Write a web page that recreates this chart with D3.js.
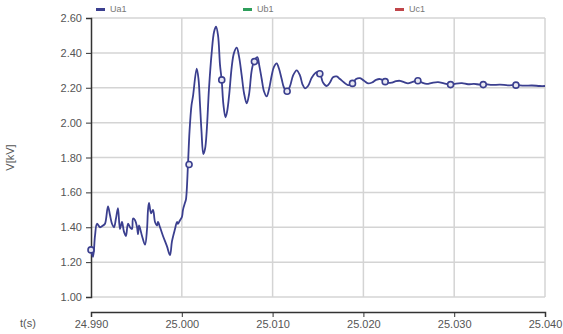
<!DOCTYPE html>
<html>
<head>
<meta charset="utf-8">
<script src="https://cdn.jsdelivr.net/npm/d3@7"></script>
<style>
  body { margin: 0; background: #fff; }
  svg { display: block; font-family: "Liberation Sans", Arial, sans-serif; }
  .grid line { stroke: #d4d4d4; stroke-width: 1.5; }
  .axis text { fill: #555; font-size: 11px; }
  .axis path, .axis line { stroke: #333; }
</style>
</head>
<body>
<div id="chart"></div>
<script>
// 時間軸 (s)
var times = [
  24.99000, 24.99022, 24.99044, 24.99066, 24.99099, 24.99132, 24.99154, 24.99187, 24.99209, 24.99231,
  24.99253, 24.99275, 24.99297, 24.99319, 24.99341, 24.99363, 24.99385, 24.99407, 24.99430, 24.99452,
  24.99463, 24.99485, 24.99507, 24.99518, 24.99529, 24.99562, 24.99595, 24.99617, 24.99628, 24.99639,
  24.99661, 24.99683, 24.99705, 24.99727, 24.99738, 24.99760, 24.99793, 24.99837, 24.99870, 24.99892,
  24.99925, 24.99947, 24.99958, 24.99980, 25.00002, 25.00013, 25.00035, 25.00046, 25.00068, 25.00085,
  25.00107, 25.00123, 25.00164, 25.00184, 25.00200, 25.00217, 25.00237, 25.00256, 25.00274, 25.00300,
  25.00329, 25.00355, 25.00377, 25.00399, 25.00421, 25.00439, 25.00459, 25.00481, 25.00498, 25.00520,
  25.00550, 25.00575, 25.00605, 25.00630, 25.00660, 25.00685, 25.00715, 25.00740, 25.00770, 25.00795,
  25.00831, 25.00856, 25.00880, 25.00905, 25.00935, 25.00960, 25.00990, 25.01015, 25.01045, 25.01070,
  25.01100, 25.01126, 25.01159, 25.01192, 25.01225, 25.01265, 25.01302, 25.01329, 25.01357, 25.01390,
  25.01434, 25.01486, 25.01522, 25.01555, 25.01596, 25.01632, 25.01665, 25.01706, 25.01742, 25.01787,
  25.01830, 25.01874, 25.01919, 25.01963, 25.02007, 25.02051, 25.02095, 25.02139, 25.02183, 25.02227,
  25.02271, 25.02315, 25.02359, 25.02403, 25.02447, 25.02491, 25.02535, 25.02587, 25.02634, 25.02697,
  25.02755, 25.02822, 25.02888, 25.02954, 25.03020, 25.03086, 25.03152, 25.03218, 25.03284, 25.03350,
  25.03416, 25.03504, 25.03592, 25.03680, 25.03768, 25.03856, 25.03944, 25.04000
];

// 電圧 Ua1 (kV)
var voltsUa1 = [
  1.27, 1.23, 1.35, 1.42, 1.40, 1.41, 1.42, 1.52, 1.47, 1.42,
  1.40, 1.45, 1.51, 1.39, 1.43, 1.375, 1.35, 1.42, 1.40, 1.39,
  1.45, 1.44, 1.40, 1.36, 1.41, 1.35, 1.30, 1.39, 1.50, 1.54,
  1.48, 1.50, 1.43, 1.41, 1.43, 1.40, 1.35, 1.29, 1.24, 1.32,
  1.39, 1.43, 1.42, 1.44, 1.46, 1.50, 1.54, 1.56, 1.76, 1.95,
  2.10, 2.15, 2.31, 2.25, 2.11, 1.95, 1.82, 1.85, 1.95, 2.20,
  2.40, 2.52, 2.55, 2.50, 2.33, 2.245, 2.10, 2.03, 2.06, 2.15,
  2.32, 2.40, 2.43, 2.38, 2.27, 2.17, 2.11, 2.16, 2.30, 2.35,
  2.375, 2.32, 2.25, 2.18, 2.15, 2.19, 2.27, 2.32, 2.34, 2.31,
  2.25, 2.20, 2.18, 2.21, 2.27, 2.30, 2.27, 2.22, 2.197, 2.21,
  2.26, 2.29, 2.28, 2.23, 2.21, 2.23, 2.26, 2.265, 2.25, 2.23,
  2.215, 2.22, 2.25, 2.255, 2.24, 2.225, 2.23, 2.245, 2.25, 2.24,
  2.228, 2.23, 2.238, 2.24, 2.232, 2.225, 2.232, 2.24, 2.232, 2.222,
  2.228, 2.232, 2.225, 2.218, 2.224, 2.226, 2.22, 2.222, 2.218, 2.22,
  2.216, 2.218, 2.214, 2.216, 2.212, 2.213, 2.21, 2.21
];

// マーカーの位置 (見えるものだけ)
var markerTimes = [24.9900, 25.0008, 25.0044, 25.0080, 25.0116,
  25.0152, 25.0188, 25.0224, 25.0260, 25.0296, 25.0332, 25.0368];
var markerVolts = [1.27, 1.76, 2.245, 2.35, 2.18,
  2.28, 2.225, 2.235, 2.24, 2.218, 2.218, 2.215];

var xTicks = [24.990, 25.000, 25.010, 25.020, 25.030, 25.040];
var yTicks = [1.00, 1.20, 1.40, 1.60, 1.80, 2.00, 2.20, 2.40, 2.60];

var legendNames = ['Ua1', 'Ub1', 'Uc1'];
var legendColors = ['#3b3f8f', '#2e9e5b', '#c0454a'];

var width = 563;
var height = 334;
var margin = { top: 18, right: 18, bottom: 37, left: 91 };
var w = width - margin.left - margin.right;
var h = height - margin.top - margin.bottom;

var svg = d3.select('#chart').append('svg')
  .attr('width', width)
  .attr('height', height);

var xScale = d3.scaleLinear().domain([24.990, 25.040]).range([0, w]);
var yScale = d3.scaleLinear().domain([1.0, 2.6]).range([h, 0]);

var g = svg.append('g')
  .attr('transform', 'translate(' + margin.left + ',' + margin.top + ')');

// グリッド
var grid = g.append('g').classed('grid', true);
grid.selectAll('.hgrid').data(yTicks).enter().append('line')
  .attr('x1', 0).attr('x2', w)
  .attr('y1', function(d) { return yScale(d); })
  .attr('y2', function(d) { return yScale(d); });
grid.selectAll('.vgrid').data(xTicks.slice(1)).enter().append('line')
  .attr('y1', 0).attr('y2', h)
  .attr('x1', function(d) { return xScale(d); })
  .attr('x2', function(d) { return xScale(d); });

// y軸
g.append('g').classed('axis', true)
  .call(d3.axisLeft(yScale).tickValues(yTicks).tickSize(5).tickPadding(4)
    .tickFormat(d3.format('.2f')))
  .select('.domain').attr('stroke-width', 1.5);

// x軸 (プロットの下に離して置く)
g.append('g').classed('axis', true)
  .attr('transform', 'translate(0,' + (h + 15) + ')')
  .call(d3.axisBottom(xScale).tickValues(xTicks).tickSize(5).tickPadding(3)
    .tickFormat(d3.format('.3f')))
  .select('.domain').attr('stroke', '#777').attr('stroke-width', 1.5);

// 線
var data = times.map(function(t, i) { return { t: t, v: voltsUa1[i] }; });
var line = d3.line()
  .x(function(d) { return xScale(d.t); })
  .y(function(d) { return yScale(d.v); })
  .curve(d3.curveCatmullRom.alpha(0.5));

g.append('path')
  .datum(data)
  .attr('fill', 'none')
  .attr('stroke', legendColors[0])
  .attr('stroke-width', 1.8)
  .attr('stroke-linejoin', 'round')
  .attr('d', line);

g.selectAll('.marker')
  .data(markerTimes)
  .enter().append('circle')
  .attr('cx', function(d) { return xScale(d); })
  .attr('cy', function(d, i) { return yScale(markerVolts[i]); })
  .attr('r', 3)
  .attr('fill', '#e8e8f2')
  .attr('stroke', legendColors[0])
  .attr('stroke-width', 1.6);

// 軸ラベル
svg.append('text')
  .attr('transform', 'translate(14,' + (margin.top + h / 2) + ') rotate(-90)')
  .attr('text-anchor', 'middle')
  .style('font-size', '11px')
  .style('fill', '#555')
  .text('V[kV]');

svg.append('text')
  .attr('x', 28).attr('y', 327)
  .attr('text-anchor', 'middle')
  .style('font-size', '11px')
  .style('fill', '#555')
  .text('t(s)');

// 凡例 (上端で切れている)
var legendX = [96, 243, 395];
var legend = svg.selectAll('.legend').data(legendNames).enter().append('g')
  .attr('transform', function(d, i) { return 'translate(' + legendX[i] + ',0)'; });
legend.append('rect')
  .attr('x', 0).attr('y', 8).attr('width', 9).attr('height', 3)
  .attr('fill', function(d, i) { return legendColors[i]; });
legend.append('text')
  .attr('x', 14).attr('y', 12)
  .style('font-size', '9px')
  .style('fill', '#777')
  .text(function(d) { return d; });
</script>
</body>
</html>
